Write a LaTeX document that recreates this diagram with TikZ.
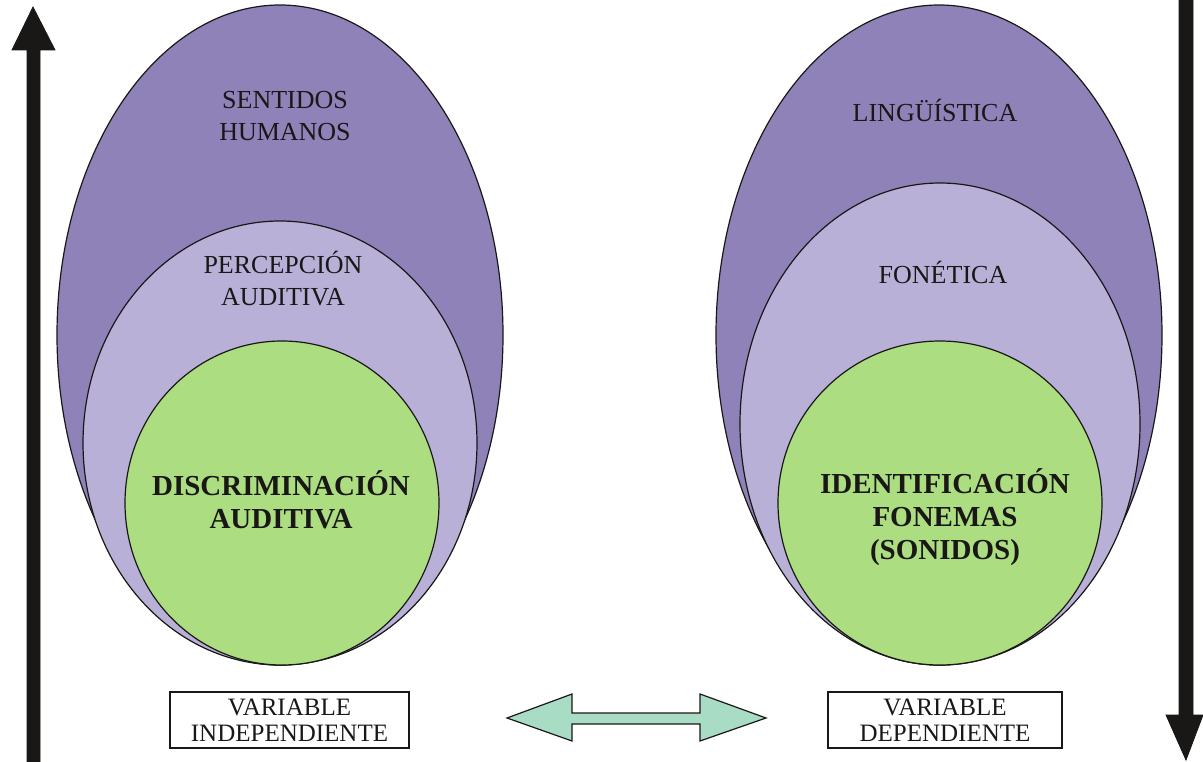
\documentclass[tikz,border=0pt]{standalone}
\usepackage{fontspec}
\setmainfont{Liberation Serif}
\usetikzlibrary{shapes.geometric}
\definecolor{dpurple}{HTML}{8F82B8}
\definecolor{lpurple}{HTML}{B9B0D7}
\definecolor{lgreen}{HTML}{ACDD80}
\definecolor{teal2}{HTML}{A8DCC4}
\definecolor{ink}{HTML}{1A1717}
\tikzset{
  oval/.style={draw=ink, line width=1.2pt},
  lbl/.style={align=center, text=ink, font=\fontsize{26}{32}\selectfont},
  blbl/.style={align=center, text=ink, font=\fontsize{29}{33}\selectfont\bfseries},
  varbox/.style={draw=ink, line width=1.2pt, fill=white, align=center, text=ink, font=\fontsize{25}{26}\selectfont, inner sep=0pt},
}
\begin{document}
\begin{tikzpicture}[x=1pt,y=-1pt]
\useasboundingbox (0,0) rectangle (1203,762);
% left ellipses
\draw[oval, fill=dpurple] (280,335) ellipse [x radius=223, y radius=330];
\draw[oval, fill=lpurple] (280,443) ellipse [x radius=197, y radius=222];
\draw[oval, fill=lgreen] (282,503) ellipse [x radius=157, y radius=162];
% right ellipses
\draw[oval, fill=dpurple] (939,335) ellipse [x radius=223, y radius=330];
\draw[oval, fill=lpurple] (940,424) ellipse [x radius=200, y radius=241];
\draw[oval, fill=lgreen] (940,503) ellipse [x radius=162, y radius=162];
% labels
\node[lbl] (sh) at (285,116) {SENTIDOS\\HUMANOS};
\node[lbl] (pa) at (283,279) {PERCEPCIÓN\\AUDITIVA};
\node[blbl] (da) at (281,500) {DISCRIMINACIÓN\\AUDITIVA};
\node[lbl] (li) at (935,110) {LINGÜÍSTICA};
\node[lbl] (fo) at (943,272) {FONÉTICA};
\node[blbl] (idf) at (945,517) {IDENTIFICACIÓN\\FONEMAS\\(SONIDOS)};
% boxes
\node[varbox, minimum width=239pt, minimum height=56pt] (vi) at (289.5,720) {VARIABLE\\INDEPENDIENTE};
\node[varbox, minimum width=234pt, minimum height=56pt] (vd) at (945,720) {VARIABLE\\DEPENDIENTE};
% vertical arrows
\fill[ink, draw=ink, line width=0.8pt] (27,762) -- (27,50) -- (12,50) -- (33,7) -- (55,50) -- (40,50) -- (40,762) -- cycle;
\fill[ink, draw=ink, line width=0.8pt] (1179,0) -- (1179,715) -- (1166,715) -- (1186,760) -- (1203,715) -- (1193,715) -- (1193,0) -- cycle;
% double arrow
\draw[fill=teal2, draw=ink, line width=1.2pt, line join=miter] (507,718) -- (572,694) -- (572,713) -- (700,713) -- (700,694) -- (766,718) -- (700,741) -- (700,724) -- (572,724) -- (572,741) -- cycle;
\end{tikzpicture}
\end{document}
